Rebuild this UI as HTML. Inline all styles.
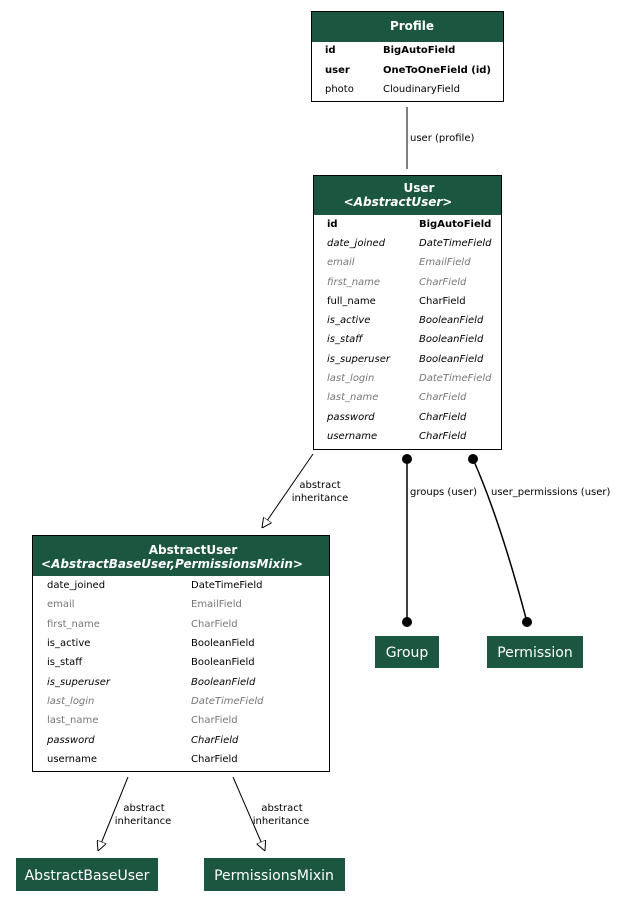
<!DOCTYPE html>
<html><head><meta charset="utf-8"><style>
html,body{margin:0;padding:0;background:#fff;}
svg text{font-family:"DejaVu Sans","Liberation Sans",sans-serif;}
</style></head><body>
<svg width="617" height="906" viewBox="0 0 617 906" xmlns="http://www.w3.org/2000/svg">
<rect width="617" height="906" fill="#fff"/>
<defs>
<marker id="tri" viewBox="0 0 10 10" refX="10" refY="5" markerWidth="10" markerHeight="10" markerUnits="userSpaceOnUse" orient="auto"><path d="M0,0 L10,5 L0,10 z" fill="#fff" stroke="#000"/></marker>
</defs>
<g font-size="10">
<!-- Profile -->
<rect x="311.5" y="11.5" width="192" height="90" fill="#fff" stroke="#000"/>
<rect x="312" y="12" width="191" height="30" fill="#1b5640"/>
<text x="412" y="30" fill="#fff" font-weight="bold" font-size="12" text-anchor="middle">Profile</text>
<text x="325" y="53" font-weight="bold">id</text><text x="383" y="53" font-weight="bold">BigAutoField</text>
<text x="325" y="73" font-weight="bold">user</text><text x="383" y="73" font-weight="bold">OneToOneField (id)</text>
<text x="325" y="92">photo</text><text x="383" y="92">CloudinaryField</text>
<line x1="407" y1="107" x2="407" y2="169" stroke="#000"/>
<text x="410" y="141">user (profile)</text>
<!-- User -->
<rect x="313.5" y="175.5" width="188" height="274" fill="#fff" stroke="#000"/>
<rect x="314" y="176" width="187" height="39" fill="#1b5640"/>
<text x="419" y="192" fill="#fff" font-weight="bold" font-size="12" text-anchor="middle">User</text>
<text x="398" y="206" fill="#fff" font-weight="bold" font-style="italic" font-size="12" text-anchor="middle">&lt;AbstractUser&gt;</text>
<g>
<text x="327" y="227" font-weight="bold">id</text><text x="419" y="227" font-weight="bold">BigAutoField</text>
<text x="327" y="246" font-style="italic">date_joined</text><text x="419" y="246" font-style="italic">DateTimeField</text>
<text x="327" y="265" font-style="italic" fill="#777">email</text><text x="419" y="265" font-style="italic" fill="#777">EmailField</text>
<text x="327" y="285" font-style="italic" fill="#777">first_name</text><text x="419" y="285" font-style="italic" fill="#777">CharField</text>
<text x="327" y="304">full_name</text><text x="419" y="304">CharField</text>
<text x="327" y="323" font-style="italic">is_active</text><text x="419" y="323" font-style="italic">BooleanField</text>
<text x="327" y="342" font-style="italic">is_staff</text><text x="419" y="342" font-style="italic">BooleanField</text>
<text x="327" y="362" font-style="italic">is_superuser</text><text x="419" y="362" font-style="italic">BooleanField</text>
<text x="327" y="381" font-style="italic" fill="#777">last_login</text><text x="419" y="381" font-style="italic" fill="#777">DateTimeField</text>
<text x="327" y="400" font-style="italic" fill="#777">last_name</text><text x="419" y="400" font-style="italic" fill="#777">CharField</text>
<text x="327" y="420" font-style="italic">password</text><text x="419" y="420" font-style="italic">CharField</text>
<text x="327" y="439" font-style="italic">username</text><text x="419" y="439" font-style="italic">CharField</text>
</g>
<!-- edges from User -->
<line x1="313" y1="454" x2="262" y2="528" stroke="#000" marker-end="url(#tri)"/>
<text x="320" y="488" text-anchor="middle">abstract</text>
<text x="320" y="501" text-anchor="middle">inheritance</text>
<line x1="407" y1="459" x2="407" y2="622" stroke="#000" stroke-width="1.5"/>
<circle cx="407" cy="459" r="5"/><circle cx="407" cy="622" r="5"/>
<text x="410" y="495">groups (user)</text>
<path d="M473,459 Q500,520 527,622" fill="none" stroke="#000" stroke-width="1.5"/>
<circle cx="473" cy="459" r="5"/><circle cx="527" cy="622" r="5"/>
<text x="491" y="495">user_permissions (user)</text>
<!-- Group, Permission -->
<rect x="375" y="636" width="64" height="32" fill="#1b5640"/>
<text x="407" y="657" fill="#fff" font-size="14" text-anchor="middle">Group</text>
<rect x="487" y="636" width="96" height="32" fill="#1b5640"/>
<text x="535" y="657" fill="#fff" font-size="14" text-anchor="middle">Permission</text>
<!-- AbstractUser -->
<rect x="32.5" y="535.5" width="297" height="236" fill="#fff" stroke="#000"/>
<rect x="33" y="536" width="296" height="40" fill="#1b5640"/>
<text x="193" y="554" fill="#fff" font-weight="bold" font-size="12" text-anchor="middle">AbstractUser</text>
<text x="172" y="568" fill="#fff" font-weight="bold" font-style="italic" font-size="12" text-anchor="middle">&lt;AbstractBaseUser,PermissionsMixin&gt;</text>
<text x="47" y="588">date_joined</text><text x="191" y="588">DateTimeField</text>
<text x="47" y="607" fill="#777">email</text><text x="191" y="607" fill="#777">EmailField</text>
<text x="47" y="627" fill="#777">first_name</text><text x="191" y="627" fill="#777">CharField</text>
<text x="47" y="646">is_active</text><text x="191" y="646">BooleanField</text>
<text x="47" y="665">is_staff</text><text x="191" y="665">BooleanField</text>
<text x="47" y="685" font-style="italic">is_superuser</text><text x="191" y="685" font-style="italic">BooleanField</text>
<text x="47" y="704" font-style="italic" fill="#777">last_login</text><text x="191" y="704" font-style="italic" fill="#777">DateTimeField</text>
<text x="47" y="723" fill="#777">last_name</text><text x="191" y="723" fill="#777">CharField</text>
<text x="47" y="743" font-style="italic">password</text><text x="191" y="743" font-style="italic">CharField</text>
<text x="47" y="762">username</text><text x="191" y="762">CharField</text>
<!-- bottom edges -->
<line x1="128" y1="777" x2="98" y2="851" stroke="#000" marker-end="url(#tri)"/>
<text x="144" y="811" text-anchor="middle">abstract</text>
<text x="143" y="824" text-anchor="middle">inheritance</text>
<line x1="233" y1="777" x2="265" y2="851" stroke="#000" marker-end="url(#tri)"/>
<text x="282" y="811" text-anchor="middle">abstract</text>
<text x="281" y="824" text-anchor="middle">inheritance</text>
<rect x="16" y="858" width="142" height="33" fill="#1b5640"/>
<text x="87" y="880" fill="#fff" font-size="14" text-anchor="middle">AbstractBaseUser</text>
<rect x="204" y="858" width="141" height="33" fill="#1b5640"/>
<text x="274" y="880" fill="#fff" font-size="14" text-anchor="middle">PermissionsMixin</text>
</g>
</svg>
</body></html>
